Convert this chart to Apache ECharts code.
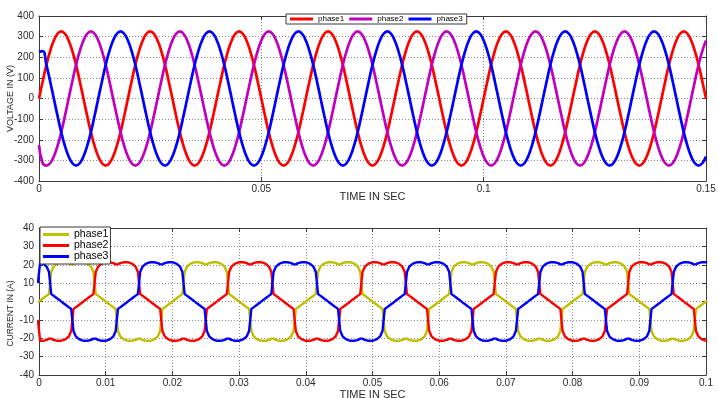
<!DOCTYPE html>
<html>
<head>
<meta charset="utf-8">
<script src="https://cdn.jsdelivr.net/npm/echarts@6/dist/echarts.min.js"></script>
<style>
html,body{margin:0;padding:0;background:#fff;}
#chart{width:718px;height:398px;}
</style>
</head>
<body>
<div id="chart"></div>
<script>
// ---------- DATA ----------
const voltageLegend = ['phase1', 'phase2', 'phase3'];
const currentLegend = ['phase1', 'phase2', 'phase3'];
const voltageTickLabels = ['0', '0.05', '0.1', '0.15'];
const currentTickLabels = ['0', '0.01', '0.02', '0.03', '0.04', '0.05', '0.06', '0.07', '0.08', '0.09', '0.1'];

// voltage samples every 1/1200 s (15 deg of the 50 Hz supply), t = 0 ... 0.15 s
const voltageSampleStep = 0.15 / 180;
const voltagePhase1 = [
0,84,163,230,281,314,325,314,281,230,163,84,0,-84,-163,-230,-281,-314,-325,-314,-281,-230,-163,-84,
0,84,163,230,281,314,325,314,281,230,163,84,0,-84,-163,-230,-281,-314,-325,-314,-281,-230,-163,-84,
0,84,163,230,281,314,325,314,281,230,163,84,0,-84,-163,-230,-281,-314,-325,-314,-281,-230,-163,-84,
0,84,163,230,281,314,325,314,281,230,163,84,0,-84,-163,-230,-281,-314,-325,-314,-281,-230,-163,-84,
0,84,163,230,281,314,325,314,281,230,163,84,0,-84,-163,-230,-281,-314,-325,-314,-281,-230,-163,-84,
0,84,163,230,281,314,325,314,281,230,163,84,0,-84,-163,-230,-281,-314,-325,-314,-281,-230,-163,-84,
0,84,163,230,281,314,325,314,281,230,163,84,0,-84,-163,-230,-281,-314,-325,-314,-281,-230,-163,-84,
0,84,163,230,281,314,325,314,281,230,163,84,0
];
const voltagePhase2 = [
-226,-314,-325,-314,-281,-230,-163,-84,
0,84,163,230,281,314,325,314,281,230,163,84,0,-84,-163,-230,-281,-314,-325,-314,-281,-230,-163,-84,
0,84,163,230,281,314,325,314,281,230,163,84,0,-84,-163,-230,-281,-314,-325,-314,-281,-230,-163,-84,
0,84,163,230,281,314,325,314,281,230,163,84,0,-84,-163,-230,-281,-314,-325,-314,-281,-230,-163,-84,
0,84,163,230,281,314,325,314,281,230,163,84,0,-84,-163,-230,-281,-314,-325,-314,-281,-230,-163,-84,
0,84,163,230,281,314,325,314,281,230,163,84,0,-84,-163,-230,-281,-314,-325,-314,-281,-230,-163,-84,
0,84,163,230,281,314,325,314,281,230,163,84,0,-84,-163,-230,-281,-314,-325,-314,-281,-230,-163,-84,
0,84,163,230,281,314,325,314,281,230,163,84,0,-84,-163,-230,-281,-314,-325,-314,-281,-230,-163,-84,
0,84,163,230,281
];
const voltagePhase3 = [
226,230,163,84,0,-84,-163,-230,-281,-314,-325,-314,-281,-230,-163,-84,
0,84,163,230,281,314,325,314,281,230,163,84,0,-84,-163,-230,-281,-314,-325,-314,-281,-230,-163,-84,
0,84,163,230,281,314,325,314,281,230,163,84,0,-84,-163,-230,-281,-314,-325,-314,-281,-230,-163,-84,
0,84,163,230,281,314,325,314,281,230,163,84,0,-84,-163,-230,-281,-314,-325,-314,-281,-230,-163,-84,
0,84,163,230,281,314,325,314,281,230,163,84,0,-84,-163,-230,-281,-314,-325,-314,-281,-230,-163,-84,
0,84,163,230,281,314,325,314,281,230,163,84,0,-84,-163,-230,-281,-314,-325,-314,-281,-230,-163,-84,
0,84,163,230,281,314,325,314,281,230,163,84,0,-84,-163,-230,-281,-314,-325,-314,-281,-230,-163,-84,
0,84,163,230,281,314,325,314,281,230,163,84,0,-84,-163,-230,-281,-314,-325,-314,-281
];

// current samples every 1/3000 s (6 deg), centred half a step off: t = -1/6000 ... 0.1 + 1/6000 s
const currentSampleStep = 1 / 3000;
const currentPhase1 = [
-0.5,
0.5,1.4,2.3,3.2,4.1,16,18.8,20,20.8,21.2,21.4,21.4,21.2,20.9,20.2,20.2,20.9,21.2,21.4,21.4,21.2,20.8,20,18.8,16,4.1,3.2,2.3,1.4,0.5,-0.5,-1.4,-2.3,-3.2,-4.1,-16,-18.8,-20,-20.8,-21.2,-21.4,-21.4,-21.2,-20.9,-20.2,-20.2,-20.9,-21.2,-21.4,-21.4,-21.2,-20.8,-20,-18.8,-16,-4.1,-3.2,-2.3,-1.4,-0.5,
0.5,1.4,2.3,3.2,4.1,16,18.8,20,20.8,21.2,21.4,21.4,21.2,20.9,20.2,20.2,20.9,21.2,21.4,21.4,21.2,20.8,20,18.8,16,4.1,3.2,2.3,1.4,0.5,-0.5,-1.4,-2.3,-3.2,-4.1,-16,-18.8,-20,-20.8,-21.2,-21.4,-21.4,-21.2,-20.9,-20.2,-20.2,-20.9,-21.2,-21.4,-21.4,-21.2,-20.8,-20,-18.8,-16,-4.1,-3.2,-2.3,-1.4,-0.5,
0.5,1.4,2.3,3.2,4.1,16,18.8,20,20.8,21.2,21.4,21.4,21.2,20.9,20.2,20.2,20.9,21.2,21.4,21.4,21.2,20.8,20,18.8,16,4.1,3.2,2.3,1.4,0.5,-0.5,-1.4,-2.3,-3.2,-4.1,-16,-18.8,-20,-20.8,-21.2,-21.4,-21.4,-21.2,-20.9,-20.2,-20.2,-20.9,-21.2,-21.4,-21.4,-21.2,-20.8,-20,-18.8,-16,-4.1,-3.2,-2.3,-1.4,-0.5,
0.5,1.4,2.3,3.2,4.1,16,18.8,20,20.8,21.2,21.4,21.4,21.2,20.9,20.2,20.2,20.9,21.2,21.4,21.4,21.2,20.8,20,18.8,16,4.1,3.2,2.3,1.4,0.5,-0.5,-1.4,-2.3,-3.2,-4.1,-16,-18.8,-20,-20.8,-21.2,-21.4,-21.4,-21.2,-20.9,-20.2,-20.2,-20.9,-21.2,-21.4,-21.4,-21.2,-20.8,-20,-18.8,-16,-4.1,-3.2,-2.3,-1.4,-0.5,
0.5,1.4,2.3,3.2,4.1,16,18.8,20,20.8,21.2,21.4,21.4,21.2,20.9,20.2,20.2,20.9,21.2,21.4,21.4,21.2,20.8,20,18.8,16,4.1,3.2,2.3,1.4,0.5,-0.5,-1.4,-2.3,-3.2,-4.1,-16,-18.8,-20,-20.8,-21.2,-21.4,-21.4,-21.2,-20.9,-20.2,-20.2,-20.9,-21.2,-21.4,-21.4,-21.2,-20.8,-20,-18.8,-16,-4.1,-3.2,-2.3,-1.4,-0.5,
0.5
];
const currentPhase2 = [
-10,
-21.4,-21.4,-21.2,-20.9,-20.2,-20.2,-20.9,-21.2,-21.4,-21.4,-21.2,-20.8,-20,-18.8,-16,-4.1,-3.2,-2.3,-1.4,-0.5,
0.5,1.4,2.3,3.2,4.1,16,18.8,20,20.8,21.2,21.4,21.4,21.2,20.9,20.2,20.2,20.9,21.2,21.4,21.4,21.2,20.8,20,18.8,16,4.1,3.2,2.3,1.4,0.5,-0.5,-1.4,-2.3,-3.2,-4.1,-16,-18.8,-20,-20.8,-21.2,-21.4,-21.4,-21.2,-20.9,-20.2,-20.2,-20.9,-21.2,-21.4,-21.4,-21.2,-20.8,-20,-18.8,-16,-4.1,-3.2,-2.3,-1.4,-0.5,
0.5,1.4,2.3,3.2,4.1,16,18.8,20,20.8,21.2,21.4,21.4,21.2,20.9,20.2,20.2,20.9,21.2,21.4,21.4,21.2,20.8,20,18.8,16,4.1,3.2,2.3,1.4,0.5,-0.5,-1.4,-2.3,-3.2,-4.1,-16,-18.8,-20,-20.8,-21.2,-21.4,-21.4,-21.2,-20.9,-20.2,-20.2,-20.9,-21.2,-21.4,-21.4,-21.2,-20.8,-20,-18.8,-16,-4.1,-3.2,-2.3,-1.4,-0.5,
0.5,1.4,2.3,3.2,4.1,16,18.8,20,20.8,21.2,21.4,21.4,21.2,20.9,20.2,20.2,20.9,21.2,21.4,21.4,21.2,20.8,20,18.8,16,4.1,3.2,2.3,1.4,0.5,-0.5,-1.4,-2.3,-3.2,-4.1,-16,-18.8,-20,-20.8,-21.2,-21.4,-21.4,-21.2,-20.9,-20.2,-20.2,-20.9,-21.2,-21.4,-21.4,-21.2,-20.8,-20,-18.8,-16,-4.1,-3.2,-2.3,-1.4,-0.5,
0.5,1.4,2.3,3.2,4.1,16,18.8,20,20.8,21.2,21.4,21.4,21.2,20.9,20.2,20.2,20.9,21.2,21.4,21.4,21.2,20.8,20,18.8,16,4.1,3.2,2.3,1.4,0.5,-0.5,-1.4,-2.3,-3.2,-4.1,-16,-18.8,-20,-20.8,-21.2,-21.4,-21.4,-21.2,-20.9,-20.2,-20.2,-20.9,-21.2,-21.4,-21.4,-21.2,-20.8,-20,-18.8,-16,-4.1,-3.2,-2.3,-1.4,-0.5,
0.5,1.4,2.3,3.2,4.1,16,18.8,20,20.8,21.2,21.4,21.4,21.2,20.9,20.2,20.2,20.9,21.2,21.4,21.4,21.2,20.8,20,18.8,16,4.1,3.2,2.3,1.4,0.5,-0.5,-1.4,-2.3,-3.2,-4.1,-16,-18.8,-20,-20.8,-21.2,-21.4
];
const currentPhase3 = [
10,
21.2,20.8,20,18.8,16,4.1,3.2,2.3,1.4,0.5,-0.5,-1.4,-2.3,-3.2,-4.1,-16,-18.8,-20,-20.8,-21.2,-21.4,-21.4,-21.2,-20.9,-20.2,-20.2,-20.9,-21.2,-21.4,-21.4,-21.2,-20.8,-20,-18.8,-16,-4.1,-3.2,-2.3,-1.4,-0.5,
0.5,1.4,2.3,3.2,4.1,16,18.8,20,20.8,21.2,21.4,21.4,21.2,20.9,20.2,20.2,20.9,21.2,21.4,21.4,21.2,20.8,20,18.8,16,4.1,3.2,2.3,1.4,0.5,-0.5,-1.4,-2.3,-3.2,-4.1,-16,-18.8,-20,-20.8,-21.2,-21.4,-21.4,-21.2,-20.9,-20.2,-20.2,-20.9,-21.2,-21.4,-21.4,-21.2,-20.8,-20,-18.8,-16,-4.1,-3.2,-2.3,-1.4,-0.5,
0.5,1.4,2.3,3.2,4.1,16,18.8,20,20.8,21.2,21.4,21.4,21.2,20.9,20.2,20.2,20.9,21.2,21.4,21.4,21.2,20.8,20,18.8,16,4.1,3.2,2.3,1.4,0.5,-0.5,-1.4,-2.3,-3.2,-4.1,-16,-18.8,-20,-20.8,-21.2,-21.4,-21.4,-21.2,-20.9,-20.2,-20.2,-20.9,-21.2,-21.4,-21.4,-21.2,-20.8,-20,-18.8,-16,-4.1,-3.2,-2.3,-1.4,-0.5,
0.5,1.4,2.3,3.2,4.1,16,18.8,20,20.8,21.2,21.4,21.4,21.2,20.9,20.2,20.2,20.9,21.2,21.4,21.4,21.2,20.8,20,18.8,16,4.1,3.2,2.3,1.4,0.5,-0.5,-1.4,-2.3,-3.2,-4.1,-16,-18.8,-20,-20.8,-21.2,-21.4,-21.4,-21.2,-20.9,-20.2,-20.2,-20.9,-21.2,-21.4,-21.4,-21.2,-20.8,-20,-18.8,-16,-4.1,-3.2,-2.3,-1.4,-0.5,
0.5,1.4,2.3,3.2,4.1,16,18.8,20,20.8,21.2,21.4,21.4,21.2,20.9,20.2,20.2,20.9,21.2,21.4,21.4,21.2,20.8,20,18.8,16,4.1,3.2,2.3,1.4,0.5,-0.5,-1.4,-2.3,-3.2,-4.1,-16,-18.8,-20,-20.8,-21.2,-21.4,-21.4,-21.2,-20.9,-20.2,-20.2,-20.9,-21.2,-21.4,-21.4,-21.2,-20.8,-20,-18.8,-16,-4.1,-3.2,-2.3,-1.4,-0.5,
0.5,1.4,2.3,3.2,4.1,16,18.8,20,20.8,21.2,21.4,21.4,21.2,20.9,20.2,20.2,20.9,21.2,21.4,21.4,21.2
];

// ---------- BUILD ----------
function voltagePairs(arr) { return arr.map((v, i) => [i * voltageSampleStep, v]); }
function currentPairs(arr) { return arr.map((v, i) => [(i - 0.5) * currentSampleStep, v]); }

const FONT = 'Liberation Sans, Arial, sans-serif';
const frameColor = '#3a3a3a';
const textColor = '#2a2a2a';
const gridDots = { type: [1, 2], color: '#8a8a8a', width: 1 };

function xMain(grid, max, interval, labels, gap) {
  return {
    type: 'value', gridIndex: grid, min: 0, max: max, interval: interval, position: 'bottom',
    name: 'TIME IN SEC', nameLocation: 'middle', nameGap: gap, nameMoveOverlap: false,
    nameTextStyle: { fontFamily: FONT, fontSize: 11, color: textColor },
    axisLine: { show: true, onZero: false, lineStyle: { color: frameColor, width: 1 } },
    axisTick: { show: true, inside: true, length: 4, lineStyle: { color: frameColor } },
    axisLabel: { fontFamily: FONT, fontSize: 10, color: textColor, margin: 3,
      formatter: (v) => { const i = Math.round(v / interval); return labels[i] !== undefined ? labels[i] : ''; } },
    splitLine: { show: true, lineStyle: gridDots }
  };
}
function xTop(grid, max, interval) {
  return {
    type: 'value', gridIndex: grid, min: 0, max: max, interval: interval, position: 'top',
    axisLine: { show: true, onZero: false, lineStyle: { color: frameColor, width: 1 } },
    axisTick: { show: true, inside: true, length: 4, lineStyle: { color: frameColor } },
    axisLabel: { show: false }, splitLine: { show: false }
  };
}
function yMain(grid, min, max, interval, name, size, pad) {
  return {
    type: 'value', gridIndex: grid, min: min, max: max, interval: interval, position: 'left',
    name: name, nameLocation: 'middle', nameGap: 24, nameMoveOverlap: false,
    nameTextStyle: { fontFamily: FONT, fontSize: size, color: textColor, padding: pad },
    axisLine: { show: true, onZero: false, lineStyle: { color: frameColor, width: 1 } },
    axisTick: { show: true, inside: true, length: 4, lineStyle: { color: frameColor } },
    axisLabel: { fontFamily: FONT, fontSize: 10, color: textColor, margin: 5 },
    splitLine: { show: true, lineStyle: gridDots }
  };
}
function yRight(grid, min, max, interval) {
  return {
    type: 'value', gridIndex: grid, min: min, max: max, interval: interval, position: 'right',
    axisLine: { show: true, onZero: false, lineStyle: { color: frameColor, width: 1 } },
    axisTick: { show: true, inside: true, length: 4, lineStyle: { color: frameColor } },
    axisLabel: { show: false }, splitLine: { show: false }
  };
}

const voltageColors = ['#ff0000', '#bf00bf', '#0000ff'];
const currentColors = ['#bfbf00', '#ff0000', '#0000ff'];
const voltageData = [voltagePhase1, voltagePhase2, voltagePhase3];
const currentData = [currentPhase1, currentPhase2, currentPhase3];

const series = [];
voltageData.forEach((arr, i) => {
  series.push({
    name: voltageLegend[i], type: 'line', xAxisIndex: 0, yAxisIndex: 0,
    data: voltagePairs(arr), smooth: true, showSymbol: false, symbol: 'none',
    lineStyle: { color: voltageColors[i], width: 2.7 }, itemStyle: { color: voltageColors[i] },
    clip: true, z: 2
  });
});
currentData.forEach((arr, i) => {
  series.push({
    name: 'I ' + currentLegend[i], type: 'line', xAxisIndex: 2, yAxisIndex: 2,
    data: currentPairs(arr), smooth: false, showSymbol: false, symbol: 'none',
    lineStyle: { color: currentColors[i], width: 2.4 }, itemStyle: { color: currentColors[i] },
    clip: true, z: 2
  });
});

const option = {
  animation: false,
  backgroundColor: '#ffffff',
  grid: [
    { left: 39, right: 12, top: 16, height: 165, containLabel: false, outerBoundsMode: 'none' },
    { left: 39, right: 12, top: 228, height: 147, containLabel: false, outerBoundsMode: 'none' }
  ],
  xAxis: [
    xMain(0, 0.15, 0.05, voltageTickLabels, 10),
    xTop(0, 0.15, 0.05),
    xMain(1, 0.1, 0.01, currentTickLabels, 14),
    xTop(1, 0.1, 0.01)
  ],
  yAxis: [
    yMain(0, -400, 400, 100, 'VOLTAGE IN (V)', 9, [0, 0, 0, 0]),
    yRight(0, -400, 400, 100),
    yMain(1, -40, 40, 10, 'CURRENT IN (A)', 8.5, [0, 24, 0, 0]),
    yRight(1, -40, 40, 10)
  ],
  legend: [
    {
      data: voltageLegend, orient: 'horizontal', left: 286, top: 14,
      padding: [1, 4, 1, 4], itemGap: 5, itemWidth: 23, itemHeight: 3, icon: 'rect',
      textStyle: { fontFamily: FONT, fontSize: 8, color: '#000' },
      borderColor: frameColor, borderWidth: 1, backgroundColor: '#fff', z: 10
    },
    {
      data: currentLegend.map(n => 'I ' + n), orient: 'vertical', left: 40, top: 227,
      padding: [2, 2, 2, 3], itemGap: 0, itemWidth: 26, itemHeight: 3, icon: 'rect',
      formatter: (n) => n.slice(2),
      textStyle: { fontFamily: FONT, fontSize: 10.5, lineHeight: 9.7, color: '#000' },
      borderColor: frameColor, borderWidth: 1, backgroundColor: '#fff', z: 10
    }
  ],
  series: series
};

const chart = echarts.init(document.getElementById('chart'), null, { renderer: 'canvas' });
chart.setOption(option);
</script>
</body>
</html>
